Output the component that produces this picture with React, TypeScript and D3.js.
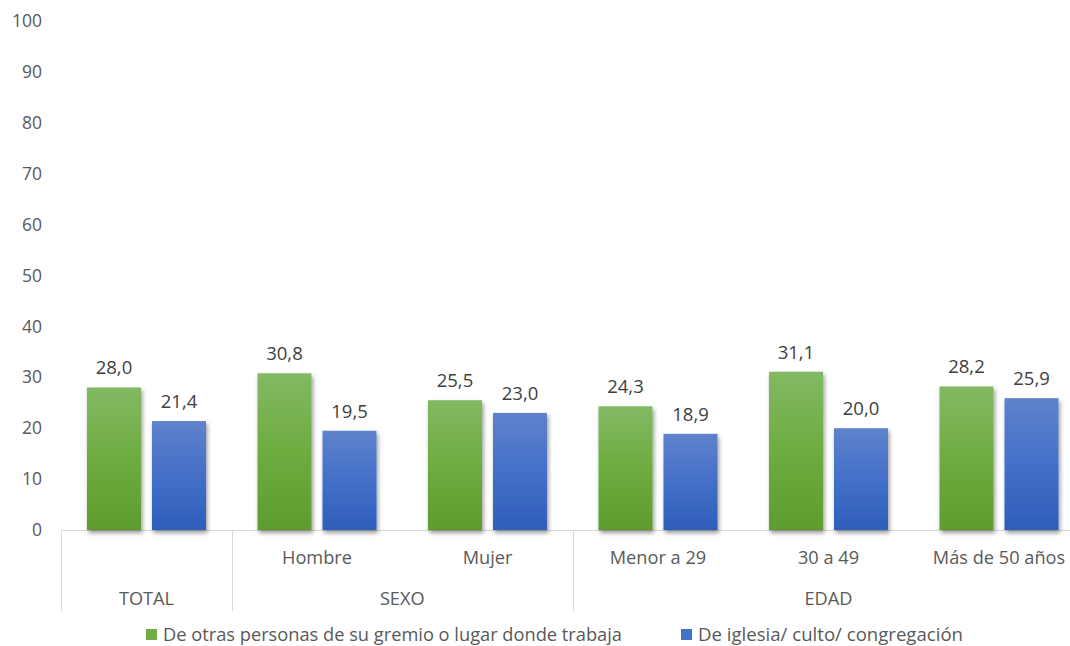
import React from "react";
import * as d3 from "d3";

const categories = ["TOTAL", "Hombre", "Mujer", "Menor a 29", "30 a 49", "Más de 50 años"];
const categoryLabels = ["", "Hombre", "Mujer", "Menor a 29", "30 a 49", "Más de 50 años"];
const groups = [
  { name: "TOTAL", from: 0, to: 1 },
  { name: "SEXO", from: 1, to: 3 },
  { name: "EDAD", from: 3, to: 6 },
];
const seriesNames = [
  "De otras personas de su gremio o lugar donde trabaja",
  "De iglesia/ culto/ congregación",
];
const gremioValues = [28.0, 30.8, 25.5, 24.3, 31.1, 28.2];
const iglesiaValues = [21.4, 19.5, 23.0, 18.9, 20.0, 25.9];
const yTicks = [0, 10, 20, 30, 40, 50, 60, 70, 80, 90, 100];

const W = 1070;
const H = 646;
const FONT = "'Open Sans', 'Noto Sans', sans-serif";
const TEXT = "#595959";

export default function App() {
  const y = d3.scaleLinear().domain([0, 100]).range([530, 21]);
  const x = d3.scaleBand<string>().domain(categories).range([61.25, 1084.25]).padding(0);
  const inner = d3
    .scaleBand<string>()
    .domain(["g", "i"])
    .range([0, x.bandwidth()])
    .paddingInner(11 / 65)
    .paddingOuter(0.396);
  const fmt = (v: number) => d3.format(".1f")(v).replace(".", ",");
  const series = [
    { key: "g", values: gremioValues, grad: "gradG", legend: "#70ad47", legendW: 459 },
    { key: "i", values: iglesiaValues, grad: "gradB", legend: "#4472c4", legendW: 265 },
  ];
  const bounds = [0, 1, 3].map((i) => x(categories[i])!);
  const legendX = [146, 681];

  return (
    <svg width={W} height={H} style={{ position: "absolute", left: 0, top: 0 }} fontFamily={FONT}>
      <defs>
        <linearGradient id="gradG" x1="0" y1="0" x2="0" y2="1">
          <stop offset="0" stopColor="#82b964" />
          <stop offset="0.5" stopColor="#6eac40" />
          <stop offset="1" stopColor="#5e9c2e" />
        </linearGradient>
        <linearGradient id="gradB" x1="0" y1="0" x2="0" y2="1">
          <stop offset="0" stopColor="#5f82cc" />
          <stop offset="0.5" stopColor="#4470c8" />
          <stop offset="1" stopColor="#2e5eb9" />
        </linearGradient>
        <filter id="shadow" x="-20%" y="-20%" width="150%" height="150%">
          <feDropShadow dx="1.5" dy="3" stdDeviation="2" floodColor="#000" floodOpacity="0.4" />
        </filter>
      </defs>
      <rect width={W} height={H} fill="#fff" />

      {yTicks.map((t) => (
        <text key={t} x={42} y={y(t)} dy="0.35em" textAnchor="end" fontSize={17.5} fill={TEXT}>
          {t}
        </text>
      ))}

      <line x1={61} x2={W} y1={y(0) + 0.5} y2={y(0) + 0.5} stroke="#d9d9d9" strokeWidth={1} />
      {bounds.map((b, i) => (
        <line key={i} x1={Math.round(b) + 0.5} x2={Math.round(b) + 0.5} y1={y(0)} y2={611} stroke="#d9d9d9" strokeWidth={1} />
      ))}

      {categories.map((c, ci) =>
        series.map((s) => {
          const bx = x(c)! + inner(s.key)!;
          const v = s.values[ci];
          return (
            <g key={c + s.key}>
              <rect
                x={bx}
                y={y(v)}
                width={inner.bandwidth()}
                height={y(0) - y(v)}
                fill={`url(#${s.grad})`}
                filter="url(#shadow)"
              />
              <text x={bx + inner.bandwidth() / 2} y={y(v) - 13} textAnchor="middle" fontSize={18.5} fill="#404040">
                {fmt(v)}
              </text>
            </g>
          );
        })
      )}

      {categories.map((c, ci) => (
        <text key={c} x={x(c)! + x.bandwidth() / 2} y={563.5} textAnchor="middle" fontSize={18.2} fill={TEXT}>
          {categoryLabels[ci]}
        </text>
      ))}
      {groups.map((g) => {
        const x0 = x(categories[g.from])!;
        const x1 = x(categories[g.to - 1])! + x.bandwidth();
        return (
          <text key={g.name} x={(x0 + x1) / 2} y={604.5} textAnchor="middle" fontSize={18.2} fill={TEXT}>
            {g.name}
          </text>
        );
      })}

      {series.map((s, i) => (
        <g key={s.key}>
          <rect x={legendX[i]} y={629} width={11} height={11} fill={s.legend} />
          <text
            x={legendX[i] + 17}
            y={641}
            fontSize={17.5}
            fill={TEXT}
            textLength={s.legendW}
            lengthAdjust="spacingAndGlyphs"
          >
            {seriesNames[i]}
          </text>
        </g>
      ))}
    </svg>
  );
}
